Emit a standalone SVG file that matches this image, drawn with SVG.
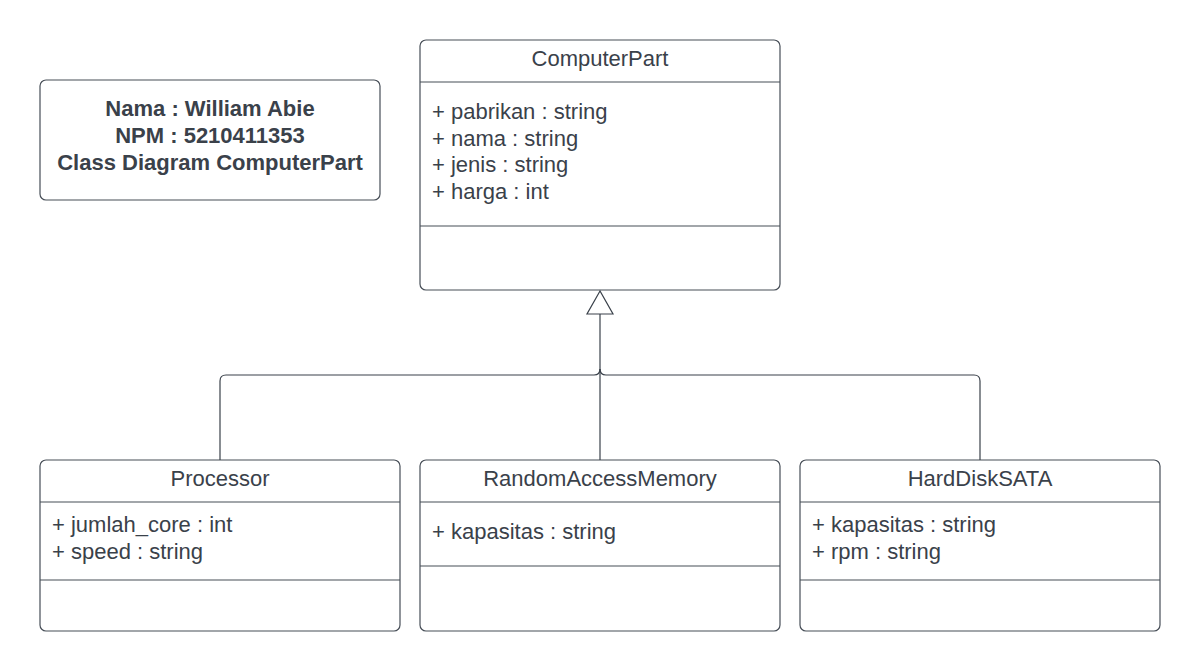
<svg xmlns="http://www.w3.org/2000/svg" width="1200" height="671" viewBox="0 0 1200 671">
<style>
.box{fill:#ffffff;stroke:#474e57;stroke-width:1.2}
.div{stroke:#474e57;stroke-width:1.2}
.t{font-family:"Liberation Sans",Arial,sans-serif;font-size:22px;fill:#3a414a}
.c{text-anchor:middle}
.b{font-weight:bold}
.conn{fill:none;stroke:#3a414a;stroke-width:1.2}
</style>
<rect width="1200" height="671" fill="#ffffff"/>
<g id="info">
<rect class="box" x="40" y="80" width="340" height="120" rx="6"/>
<text class="t c b" x="210" y="116">Nama : William Abie</text>
<text class="t c b" x="210" y="143">NPM : 5210411353</text>
<text class="t c b" x="210" y="170">Class Diagram ComputerPart</text>
</g>
<g id="ComputerPart">
<rect class="box" x="420" y="40" width="360" height="250" rx="6"/>
<line class="div" x1="420" y1="82" x2="780" y2="82"/>
<line class="div" x1="420" y1="226" x2="780" y2="226"/>
<text class="t c" x="600" y="66">ComputerPart</text>
<text class="t" x="432" y="119">+ pabrikan : string</text>
<text class="t" x="432" y="146">+ nama : string</text>
<text class="t" x="432" y="172">+ jenis : string</text>
<text class="t" x="432" y="199">+ harga : int</text>
</g>
<g id="Processor">
<rect class="box" x="40" y="460" width="360" height="171" rx="6"/>
<line class="div" x1="40" y1="502" x2="400" y2="502"/>
<line class="div" x1="40" y1="580" x2="400" y2="580"/>
<text class="t c" x="220" y="486">Processor</text>
<text class="t" x="52" y="532">+ jumlah_core : int</text>
<text class="t" x="52" y="559">+ speed : string</text>
</g>
<g id="RandomAccessMemory">
<rect class="box" x="420" y="460" width="360" height="171" rx="6"/>
<line class="div" x1="420" y1="502" x2="780" y2="502"/>
<line class="div" x1="420" y1="566" x2="780" y2="566"/>
<text class="t c" x="600" y="486">RandomAccessMemory</text>
<text class="t" x="432" y="539">+ kapasitas : string</text>
</g>
<g id="HardDiskSATA">
<rect class="box" x="800" y="460" width="360" height="171" rx="6"/>
<line class="div" x1="800" y1="502" x2="1160" y2="502"/>
<line class="div" x1="800" y1="580" x2="1160" y2="580"/>
<text class="t c" x="980" y="486">HardDiskSATA</text>
<text class="t" x="812" y="532">+ kapasitas : string</text>
<text class="t" x="812" y="559">+ rpm : string</text>
</g>
<g id="connectors">
<path class="conn" d="M220,460 V381 Q220,375 226,375 H594 Q600,375 600,369"/>
<path class="conn" d="M980,460 V381 Q980,375 974,375 H606 Q600,375 600,369"/>
<path class="conn" d="M600,460 V314"/>
<polygon class="conn" points="600,291 587,314 613,314" fill="#ffffff"/>
</g>
</svg>
